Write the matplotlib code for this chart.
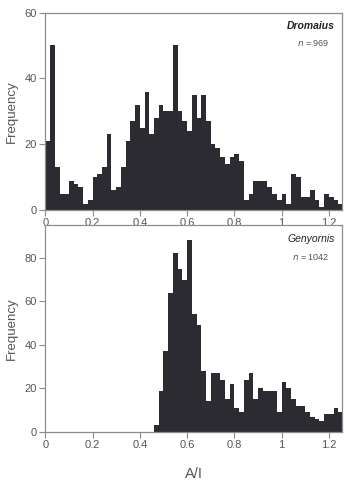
import matplotlib
matplotlib.use("Agg")
import matplotlib.pyplot as plt
import numpy as np

plt.rcParams["font.family"] = ["Liberation Sans", "DejaVu Sans"]

BIN_WIDTH = 0.02

# Dromaius histogram counts, bins starting at 0.00, 0.02, ...
dromaius_counts = [
    21, 50, 13, 5, 5, 9, 8, 7, 2, 3,
    10, 11, 13, 23, 6, 7, 13, 21, 27, 32,
    25, 36, 23, 28, 32, 30, 30, 50, 30, 27,
    24, 35, 28, 35, 27, 20, 19, 16, 14, 16,
    17, 15, 3, 5, 9, 9, 9, 7, 5, 3,
    5, 2, 11, 10, 4, 4, 6, 3, 1, 5,
    4, 3, 2,
]
dromaius_start = 0.0

# Genyornis histogram counts, bins starting at 0.46
genyornis_counts = [
    3, 19, 37, 64, 82, 75, 70, 88, 54, 49,
    28, 14, 27, 27, 24, 15, 22, 11, 9, 24,
    27, 15, 20, 19, 19, 19, 9, 23, 20, 15,
    12, 12, 9, 7, 6, 5, 8, 8, 11, 9,
]
genyornis_start = 0.46

xticks = [0, 0.2, 0.4, 0.6, 0.8, 1.0, 1.2]
xtick_labels = ["0", "0.2", "0.4", "0.6", "0.8", "1", "1.2"]

BAR_COLOR = "#2b2b31"
FRAME = "#8c8c8c"
TEXT = "#555555"

fig = plt.figure(figsize=(3.46, 4.82), dpi=100)
ax1 = fig.add_axes([0.131, 0.564, 0.857, 0.410])
ax2 = fig.add_axes([0.131, 0.104, 0.857, 0.429])


def draw_panel(ax, start, counts, ylim, yticks, name, n, weight):
    lefts = start + BIN_WIDTH * np.arange(len(counts))
    ax.bar(lefts, counts, width=BIN_WIDTH, align="edge", color=BAR_COLOR,
           linewidth=0)
    ax.set_xlim(0, 1.255)
    ax.set_ylim(*ylim)
    ax.set_xticks(xticks)
    ax.set_xticklabels(xtick_labels)
    ax.set_yticks(yticks)
    ax.tick_params(direction="out", length=4, width=0.8, color=FRAME,
                   labelcolor=TEXT, labelsize=8, pad=2)
    for s in ax.spines.values():
        s.set_color(FRAME)
        s.set_linewidth(0.9)
    ax.set_ylabel("Frequency", fontsize=9.5, color=TEXT, labelpad=5)
    ax.text(0.975, 0.955, name, transform=ax.transAxes, ha="right", va="top",
            fontsize=7.5, style="italic", fontweight=weight, color="#222222")
    ax.text(0.96, 0.87, "$n$ = %d" % n, transform=ax.transAxes, ha="right",
            va="top", fontsize=6.5, color=TEXT)


draw_panel(ax1, dromaius_start, dromaius_counts, (0, 60), [0, 20, 40, 60],
           "Dromaius", 969, "bold")
draw_panel(ax2, genyornis_start, genyornis_counts, (0, 95), [0, 20, 40, 60, 80],
           "Genyornis", 1042, "normal")

ax2.set_xlabel("A/I", fontsize=10.5, color=TEXT, labelpad=12)

fig.savefig("out.png", dpi=100)
